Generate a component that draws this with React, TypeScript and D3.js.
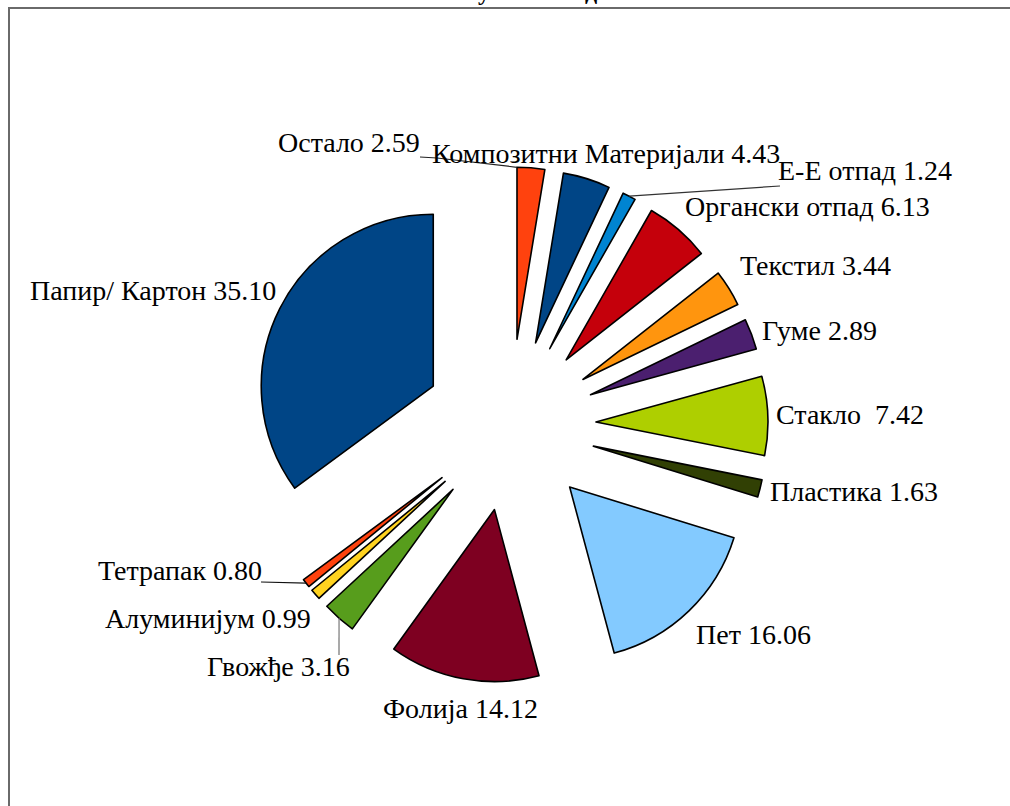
import React from "react";
import * as d3 from "d3";

const categories = [
  "Остало",
  "Композитни Материјали",
  "Е-Е отпад",
  "Органски отпад",
  "Текстил",
  "Гуме",
  "Стакло ",
  "Пластика",
  "Пет",
  "Фолија",
  "Гвожђе",
  "Алуминијум",
  "Тетрапак",
  "Папир/ Картон",
];
const values = [2.59, 4.43, 1.24, 6.13, 3.44, 2.89, 7.42, 1.63, 16.06, 14.12, 3.16, 0.99, 0.8, 35.1];
const colors = [
  "#ff420e", "#004586", "#0084d1", "#c5000b", "#ff950e", "#4b1f6f", "#aecf00",
  "#314004", "#83caff", "#7e0021", "#579d1c", "#ffd320", "#ff420e", "#004586",
];
const titleText = "Укупан отпад";

// layout: label baseline positions (left edge)
const labelPos: [number, number][] = [
  [278, 152], [432, 163], [778, 180], [685, 216], [740, 275], [762, 340], [776, 424],
  [770, 501], [696, 644], [383, 718], [207, 676], [105, 628], [98, 580], [30, 300],
];
// leader lines: slice index, fraction along slice angle, end point
const leaders: { i: number; f: number; end: [number, number]; mid?: [number, number]; color: string }[] = [
  { i: 0, f: 0, end: [420, 157], mid: [437, 158], color: "#222" },
  { i: 2, f: 0.5, end: [780, 186], color: "#333" },
  { i: 12, f: 0.5, end: [261, 582], color: "#111" },
  { i: 10, f: 0.5, end: [339, 655], color: "#777" },
];

const W = 1010, H = 806;
const cx = 510, cy = 425, R = 172, EXPLODE = 86;
const FONT = "'Liberation Serif', 'Times New Roman', 'DejaVu Serif', serif";

export default function App() {
  const pie = d3.pie<number>().sort(null).value((d) => d)(values);
  const arc = d3.arc<d3.PieArcDatum<number>>().innerRadius(0).outerRadius(R);
  const offset = (a: number) => [EXPLODE * Math.sin(a), -EXPLODE * Math.cos(a)];

  return (
    <svg width={W} height={H} style={{ position: "absolute", left: 0, top: 0, display: "block" }}>
      <rect x={0} y={0} width={W} height={H} fill="#fff" />
      <text x={523} y={-0.5} textAnchor="middle" fontFamily={FONT} fontWeight="bold" fontSize={24}>
        {titleText}
      </text>
      <rect x={9} y={8} width={W + 20} height={H + 20} fill="none" stroke="#6a6a6a" strokeWidth={2} />
      <g transform={`translate(${cx},${cy})`}>
        {pie.map((p, i) => {
          const m = (p.startAngle + p.endAngle) / 2;
          const [dx, dy] = offset(m);
          return (
            <path key={i} d={arc(p) || ""} transform={`translate(${dx},${dy})`} fill={colors[i]} stroke="#000" strokeWidth={1.6} strokeLinejoin="round" />
          );
        })}
      </g>
      {leaders.map((l, k) => {
        const p = pie[l.i];
        const m = (p.startAngle + p.endAngle) / 2;
        const a = p.startAngle + (p.endAngle - p.startAngle) * l.f;
        const [dx, dy] = offset(m);
        const sx = cx + dx + R * Math.sin(a);
        const sy = cy + dy - R * Math.cos(a);
        const pts = [[sx, sy], ...(l.mid ? [l.mid] : []), l.end];
        return (
          <polyline key={k} points={pts.map((q) => q.join(",")).join(" ")} fill="none" stroke={l.color} strokeWidth={1.2} />
        );
      })}
      {categories.map((c, i) => (
        <text key={i} x={labelPos[i][0]} y={labelPos[i][1]} fontFamily={FONT} fontSize={28} fill="#000" style={{ whiteSpace: "pre" }}>
          {`${c} ${values[i].toFixed(2)}`}
        </text>
      ))}
    </svg>
  );
}
